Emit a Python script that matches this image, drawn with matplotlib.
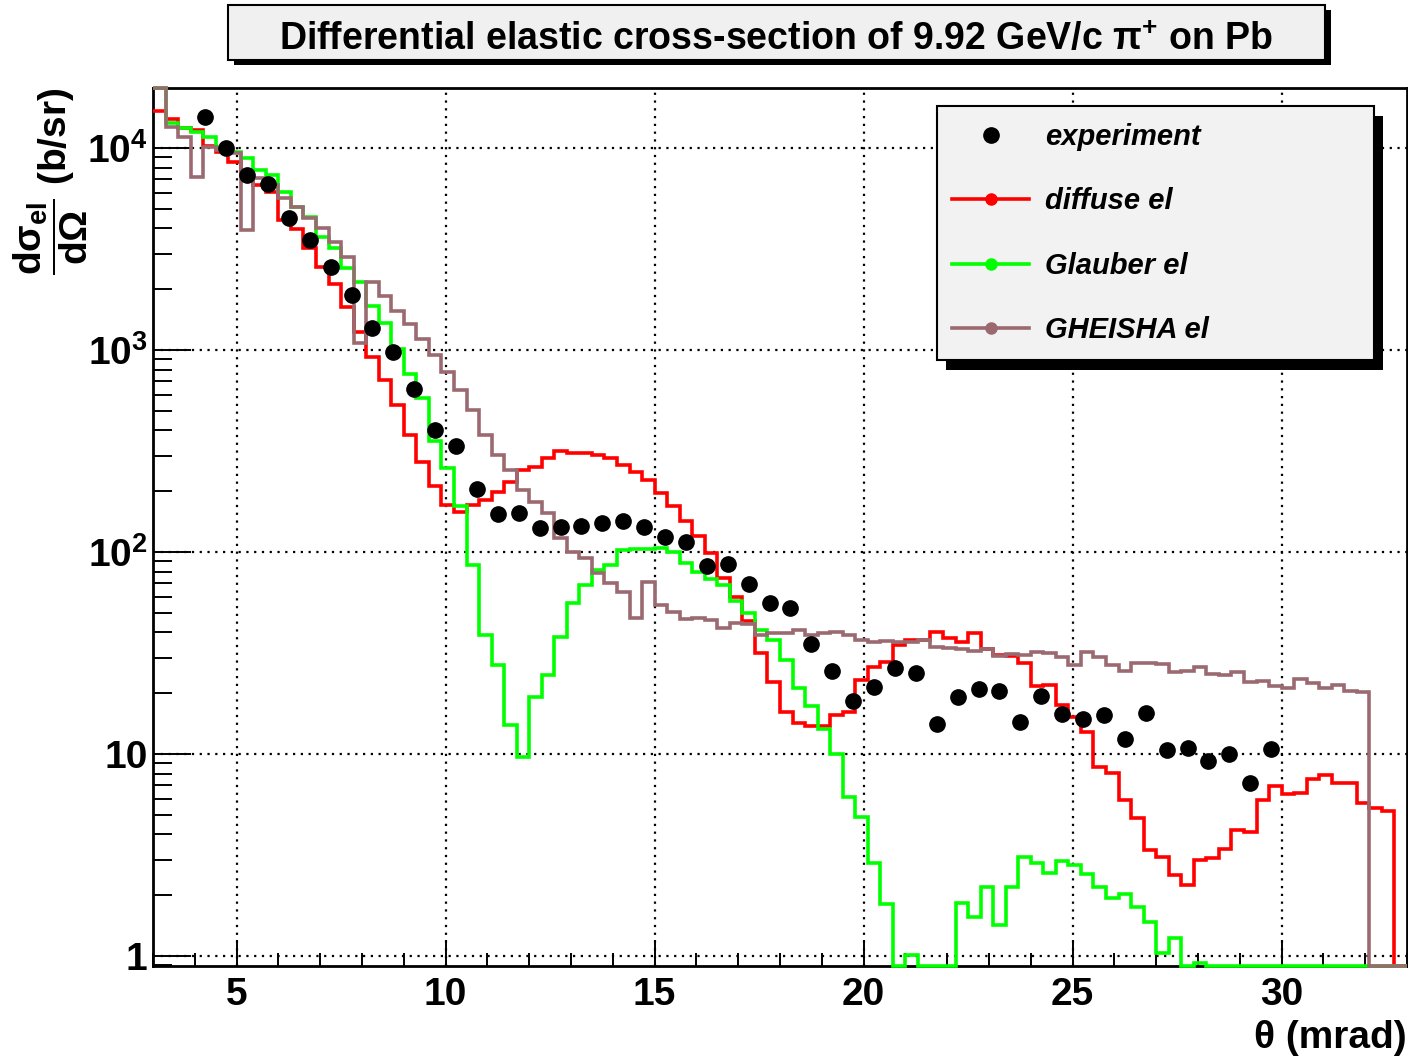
import numpy as np
import matplotlib
matplotlib.use("Agg")
import matplotlib.pyplot as plt
from matplotlib.lines import Line2D
from matplotlib.patches import Rectangle
from matplotlib.ticker import MultipleLocator, FixedLocator, FixedFormatter, LogLocator, NullFormatter

plt.rcParams['font.family'] = ['Liberation Sans', 'DejaVu Sans']
plt.rcParams['font.weight'] = 'bold'
plt.rcParams['axes.labelweight'] = 'bold'
plt.rcParams['mathtext.fontset'] = 'custom'
plt.rcParams['mathtext.rm'] = 'Liberation Sans:bold'
plt.rcParams['mathtext.it'] = 'Liberation Sans:bold'
plt.rcParams['mathtext.bf'] = 'Liberation Sans:bold'
plt.rcParams['mathtext.default'] = 'rm'

# histogram binning (mrad)
theta_lo, theta_hi, n_bins = 3.0, 33.0, 100
bin_edges = np.linspace(theta_lo, theta_hi, n_bins + 1)

# diffuse el (b/sr)
diffuse_el = [15240, 13930, 12560, 12270, 10230, 9550, 8530, 7520, 6560, 6050,
              4400, 3970, 3200, 2580, 2120, 1630, 1230, 923, 710, 535,
              379, 279, 212, 171, 158, 171, 181, 198, 222, 255,
              264, 292, 316, 309, 309, 302, 292, 270, 249, 227,
              196, 169, 142, 120, 98.9, 74.3, 59.9, 45.5, 31.6, 22.7,
              16.1, 14.2, 13.8, 13.8, 15.6, 16.1, 23.2, 27.0, 28.5, 34.6,
              36.7, 36.7, 40.2, 37.5, 35.8, 39.7, 33.1, 30.9, 30.6, 28.2,
              21.7, 21.9, 17.5, 15.2, 12.8, 8.62, 8.05, 5.92, 4.82, 3.35,
              3.09, 2.52, 2.25, 2.99, 3.06, 3.39, 4.20, 4.11, 5.92, 6.94,
              6.34, 6.41, 7.52, 7.87, 7.18, 7.18, 5.72, 5.40, 5.22, 0]

# Glauber el (b/sr)
glauber_el = [30000, 13300, 12560, 12000, 11330, 10110, 9550, 8920, 7780, 7350,
              6050, 5100, 4550, 3630, 3200, 2550, 2170, 1650, 1360, 1010,
              761, 578, 355, 261, 169, 86.2, 38.8, 27.6, 13.9, 9.66,
              19.2, 24.6, 37.9, 56.0, 68.7, 81.5, 86.2, 102, 103, 104,
              105, 100, 88.3, 79.6, 73.5, 68.7, 57.2, 49.9, 41.1, 36.7,
              29.2, 21.2, 17.3, 13.3, 10.0, 6.12, 4.88, 2.89, 1.81, 0,
              1.01, 0, 0, 0, 1.83, 1.56, 2.20, 1.42, 2.20, 3.09,
              2.89, 2.58, 2.95, 2.82, 2.55, 2.20, 1.94, 2.03, 1.75, 1.47,
              1.03, 1.23, 0, 0.923, 0, 0, 0, 0, 0, 0,
              0, 0, 0, 0, 0, 0, 0, 0, 0, 0]

# GHEISHA el (b/sr)
gheisha_el = [30000, 12710, 11330, 7180, 10110, 9770, 9440, 3930, 7100, 6560,
              5650, 5100, 4500, 4020, 3430, 2890, 1080, 2170, 1850, 1560,
              1345, 1134, 945, 778, 634, 505, 379, 302, 255, 203,
              177, 156, 117, 100, 93.4, 78.7, 70.3, 63.4, 47.1, 71.0,
              54.7, 50.5, 46.6, 47.1, 46.1, 42.0, 44.5, 44.0, 38.8, 39.7,
              39.7, 41.1, 38.8, 39.7, 40.2, 38.8, 36.7, 35.8, 36.3, 35.8,
              35.8, 36.7, 33.9, 33.5, 33.1, 32.4, 33.1, 30.6, 31.3, 30.9,
              32.0, 31.6, 30.2, 27.6, 32.0, 30.2, 27.6, 25.8, 28.2, 28.2,
              27.9, 25.5, 25.8, 27.0, 24.9, 24.6, 25.5, 22.7, 23.0, 21.7,
              21.2, 23.5, 22.5, 21.2, 22.0, 20.5, 20.3, 0, 0, 0]

# experiment
theta_exp = np.arange(4.25, 30.0, 0.5)
sigma_exp = [14230, 10000, 7350, 6640, 4500, 3510, 2580, 1870, 1285, 977,
             641, 402, 335, 205, 154, 156, 131, 133, 134, 139,
             142, 133, 119, 112, 85.3, 87.2, 69.4, 56.0, 52.8, 35.0,
             25.8, 18.3, 21.5, 26.7, 25.2, 14.1, 19.2, 21.0, 20.5, 14.4,
             19.4, 15.8, 14.9, 15.6, 11.9, 16.0, 10.5, 10.7, 9.23, 10.0,
             7.18, 10.6]

y_min, y_max = 0.892, 19800
y_major = [1, 10, 100, 1000, 10000]
y_major_labels = ['1', '10', r'$10^{2}$', r'$10^{3}$', r'$10^{4}$']

series = [("diffuse el", diffuse_el, '#ff0000'),
          ("Glauber el", glauber_el, '#00ff00'),
          ("GHEISHA el", gheisha_el, '#9a6a70')]

W, H = 1408, 1062
fig = plt.figure(figsize=(W / 100, H / 100), dpi=100)
ax = fig.add_axes([153 / W, 1 - 966 / H, (1407 - 153) / W, (966 - 88) / H])
ax.set_yscale('log')
ax.set_xlim(theta_lo, theta_hi)
ax.set_ylim(y_min, y_max)

for i, (name, vals, col) in enumerate(series):
    ax.stairs(np.clip(vals, y_min, y_max), bin_edges, color=col, linewidth=2.6,
              baseline=None, clip_on=False, zorder=2.6 + 0.1 * i)
ax.plot(theta_exp, sigma_exp, 'o', color='black', markersize=11, zorder=3)

ax.xaxis.set_major_locator(MultipleLocator(5))
ax.xaxis.set_minor_locator(MultipleLocator(1))
ax.yaxis.set_major_locator(FixedLocator(y_major))
ax.yaxis.set_major_formatter(FixedFormatter(y_major_labels))
ax.yaxis.set_minor_locator(LogLocator(base=10, subs=range(2, 10)))
ax.yaxis.set_minor_formatter(NullFormatter())
ax.tick_params(axis='x', which='major', direction='in', length=18.7, width=1.4,
               labelsize=28, pad=8, top=False)
ax.tick_params(axis='x', which='minor', direction='in', length=9.4, width=1.4, top=False)
ax.tick_params(axis='y', which='major', direction='in', length=27, width=1.4,
               labelsize=28, pad=4, right=False)
ax.tick_params(axis='y', which='minor', direction='in', length=13.5, width=1.4, right=False)
ax.grid(True, which='major', color='black', linestyle=(0, (1, 2.5)), linewidth=1.6)
for s in ax.spines.values():
    s.set_linewidth(2)

ax.set_ylabel(r'$\dfrac{d\sigma_{el}}{d\Omega}$ (b/sr)', fontsize=28, loc='top')
ax.yaxis.set_label_coords(-0.05, 1.0)
ax.set_xlabel('θ (mrad)', fontsize=28, loc='right')
ax.xaxis.set_label_coords(1.0, -0.062)

# title box with shadow
tx0, ty0, tw, th = 228 / W, 1 - 60 / H, 1097 / W, 55 / H
fig.patches.append(Rectangle((tx0 + 6 / W, ty0 - 5 / H), tw, th, transform=fig.transFigure,
                             facecolor='black', edgecolor='none', zorder=1))
fig.patches.append(Rectangle((tx0, ty0), tw, th, transform=fig.transFigure,
                             facecolor='#f0f0f0', edgecolor='black', linewidth=1.5, zorder=1.1))
fig.text(tx0 + tw / 2, 1 - 50 / H,
         r'Differential elastic cross-section of 9.92 GeV/c $\pi^{+}$ on Pb',
         ha='center', va='baseline', fontsize=27, fontweight='bold', zorder=1.2)

# legend box with shadow
lx0, ly0, lw_, lh = 937 / W, 1 - 360 / H, 437 / W, 254 / H
fig.patches.append(Rectangle((lx0 + 9 / W, ly0 - 10 / H), lw_, lh, transform=fig.transFigure,
                             facecolor='black', edgecolor='none', zorder=3))
fig.patches.append(Rectangle((lx0, ly0), lw_, lh, transform=fig.transFigure,
                             facecolor='#f2f2f2', edgecolor='black', linewidth=1.5, zorder=3.1))
handles = [Line2D([], [], linestyle='none', marker='o', color='black', markersize=11)]
labels = ['experiment']
for name, vals, col in series:
    handles.append(Line2D([], [], color=col, linewidth=2.6, marker='o', markersize=8))
    labels.append(name)
fig.legend(handles, labels, loc='upper left', bbox_to_anchor=(952 / W, 1 - 123 / H),
           bbox_transform=fig.transFigure, frameon=False, borderpad=0, borderaxespad=0,
           handlelength=2.64, handletextpad=0.55, labelspacing=1.25, numpoints=1,
           prop={'size': 21, 'weight': 'bold', 'style': 'italic'})

fig.savefig('out.png', dpi=100)
